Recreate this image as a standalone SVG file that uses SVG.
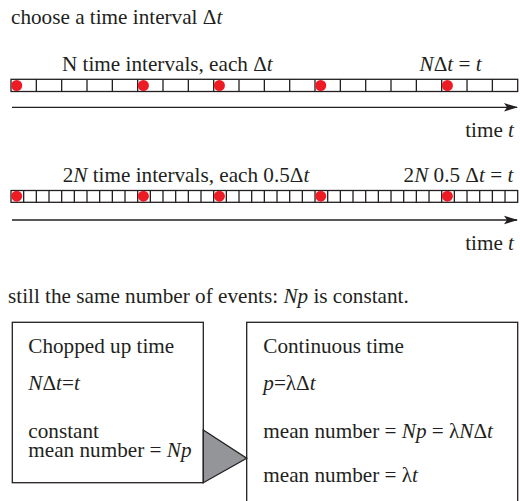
<svg xmlns="http://www.w3.org/2000/svg" width="520" height="501" viewBox="0 0 520 501">
<style>
text{font-family:"Liberation Serif","Times New Roman",serif;font-size:21.2px;fill:#231f20}
.i{font-style:italic}
.bar{fill:#fff;stroke:#231f20;stroke-width:1.3}
.div{stroke:#231f20;stroke-width:1.3;fill:none}
.dot{fill:#ed1c24}
.box{fill:#fff;stroke:#231f20;stroke-width:1.3}
.axis{stroke:#231f20;stroke-width:1.3;fill:none}
</style>
<defs>
<marker id="ah" viewBox="0 0 14 10" refX="13" refY="5" markerWidth="14" markerHeight="10" markerUnits="userSpaceOnUse" orient="auto">
<path d="M0,0.8 L14,5 L0,9.2 L3,5 Z" fill="#231f20"/>
</marker>
</defs>
<rect width="520" height="501" fill="#fff"/>
<text x="11" y="24">choose a time interval Δ<tspan class="i">t</tspan></text>

<g id="timeline1">
<text x="62" y="71">N time intervals, each Δ<tspan class="i">t</tspan></text>
<text x="481.7" y="71" text-anchor="end"><tspan class="i">N</tspan>Δ<tspan class="i">t</tspan> = <tspan class="i">t</tspan></text>
<rect class="bar" x="11" y="79.3" width="506.7" height="12.2"/>
<path class="div" d="M36.33,79.3V91.5M61.67,79.3V91.5M87,79.3V91.5M112.34,79.3V91.5M137.67,79.3V91.5M163,79.3V91.5M188.35,79.3V91.5M213.68,79.3V91.5M239,79.3V91.5M264.35,79.3V91.5M289.69,79.3V91.5M315,79.3V91.5M340.36,79.3V91.5M365.69,79.3V91.5M391,79.3V91.5M416.36,79.3V91.5M441.7,79.3V91.5M467.03,79.3V91.5M492.37,79.3V91.5"/>
<circle class="dot" cx="16.7" cy="85.5" r="5.5"/>
<circle class="dot" cx="143.4" cy="85.5" r="5.5"/>
<circle class="dot" cx="219.4" cy="85.5" r="5.5"/>
<circle class="dot" cx="320.7" cy="85.5" r="5.5"/>
<circle class="dot" cx="447.4" cy="85.5" r="5.5"/>
<line class="axis" x1="12" y1="107.3" x2="517" y2="107.3" marker-end="url(#ah)"/>
<text x="514" y="137" text-anchor="end">time <tspan class="i">t</tspan></text>
</g>

<g id="timeline2">
<text x="62.7" y="181.7">2<tspan class="i">N</tspan> time intervals, each 0.5Δ<tspan class="i">t</tspan></text>
<text x="513.3" y="181.7" text-anchor="end">2<tspan class="i">N</tspan> 0.5 Δ<tspan class="i">t</tspan> = <tspan class="i">t</tspan></text>
<rect class="bar" x="11" y="190.5" width="506.7" height="11.8"/>
<path class="div" d="M23.67,190.5V202.3M36.34,190.5V202.3M49,190.5V202.3M61.67,190.5V202.3M74.34,190.5V202.3M87,190.5V202.3M99.67,190.5V202.3M112.34,190.5V202.3M125,190.5V202.3M137.68,190.5V202.3M150.34,190.5V202.3M163,190.5V202.3M175.68,190.5V202.3M188.35,190.5V202.3M201,190.5V202.3M213.68,190.5V202.3M226.35,190.5V202.3M239,190.5V202.3M251.68,190.5V202.3M264.35,190.5V202.3M277.02,190.5V202.3M289.69,190.5V202.3M302.35,190.5V202.3M315.02,190.5V202.3M327.69,190.5V202.3M340.36,190.5V202.3M353.02,190.5V202.3M365.69,190.5V202.3M378.36,190.5V202.3M391.03,190.5V202.3M403.69,190.5V202.3M416.36,190.5V202.3M429.03,190.5V202.3M441.7,190.5V202.3M454.36,190.5V202.3M467.03,190.5V202.3M479.7,190.5V202.3M492.37,190.5V202.3M505.03,190.5V202.3"/>
<circle class="dot" cx="16.7" cy="196.2" r="5.5"/>
<circle class="dot" cx="143.4" cy="196.2" r="5.5"/>
<circle class="dot" cx="219.4" cy="196.2" r="5.5"/>
<circle class="dot" cx="320.7" cy="196.2" r="5.5"/>
<circle class="dot" cx="447.4" cy="196.2" r="5.5"/>
<line class="axis" x1="12" y1="220" x2="517" y2="220" marker-end="url(#ah)"/>
<text x="514" y="250" text-anchor="end">time <tspan class="i">t</tspan></text>
</g>

<text x="8" y="303">still the same number of events: <tspan class="i">Np</tspan> is constant.</text>

<g id="chopped">
<rect class="box" x="12.3" y="322.3" width="191" height="160.4"/>
<text x="28.3" y="353">Chopped up time</text>
<text x="28.3" y="390"><tspan class="i">N</tspan>Δ<tspan class="i">t</tspan>=<tspan class="i">t</tspan></text>
<text x="28.3" y="438.3">constant<tspan x="28.3" dy="18.4">mean number = </tspan><tspan class="i">Np</tspan></text>
</g>

<g id="continuous">
<rect class="box" x="246.7" y="322.3" width="271" height="200"/>
<text x="263.3" y="353">Continuous time</text>
<text x="263.3" y="390"><tspan class="i">p</tspan>=λΔ<tspan class="i">t</tspan></text>
<text x="263.3" y="437.7">mean number = <tspan class="i">Np</tspan> = λ<tspan class="i">N</tspan>Δ<tspan class="i">t</tspan></text>
<text x="263.3" y="482">mean number = λ<tspan class="i">t</tspan></text>
</g>

<g id="connectors">
<polygon points="203.3,430 246.7,458.3 203.3,482.7" fill="#939598" stroke="#231f20" stroke-width="1.3" stroke-linejoin="miter"/>
</g>
</svg>
